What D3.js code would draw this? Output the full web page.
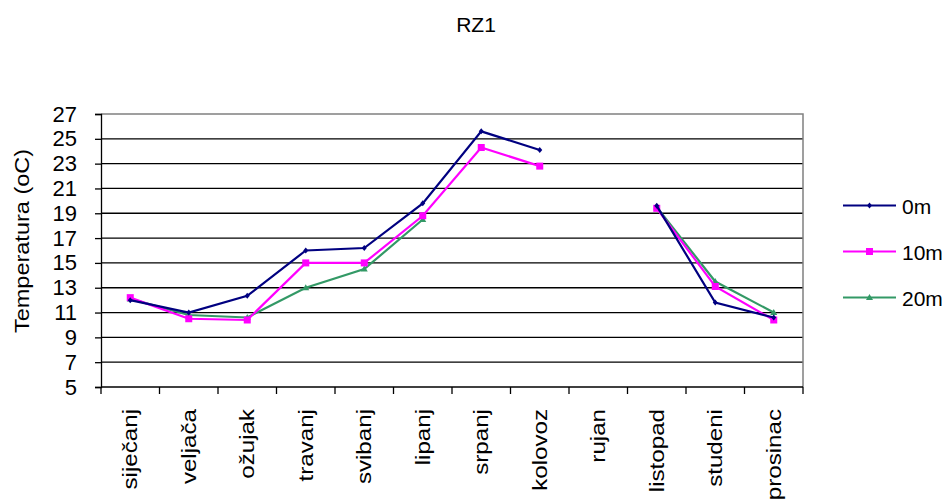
<!DOCTYPE html>
<html>
<head>
<meta charset="utf-8">
<script src="https://cdn.jsdelivr.net/npm/d3@7"></script>
<style>
  body { margin: 0; background: #fff; }
  text { font-family: "Liberation Sans", Arial, sans-serif; fill: #000; }
</style>
</head>
<body>
<script>
const months = ["siječanj", "veljača", "ožujak", "travanj", "svibanj", "lipanj",
  "srpanj", "kolovoz", "rujan", "listopad", "studeni", "prosinac"];

const temp0m  = [12.0, 11.0, 12.35, 16.0, 16.2, 19.8, 25.6, 24.1, null, 19.6, 11.8, 10.6];
const temp10m = [12.2, 10.5, 10.4, 15.0, 15.0, 18.8, 24.3, 22.8, null, 19.4, 13.1, 10.4];
const temp20m = [12.1, 10.8, 10.6, 13.0, 14.5, 18.5, null, null, null, 19.5, 13.5, 11.0];

const yTicks = [5, 7, 9, 11, 13, 15, 17, 19, 21, 23, 25, 27];

const series = [
  {name: "0m", values: temp0m, color: "#000080", marker: "diamond"},
  {name: "10m", values: temp10m, color: "#ff00ff", marker: "square"},
  {name: "20m", values: temp20m, color: "#339966", marker: "triangle"}
];

const width = 947, height = 500;
const plot = {left: 101, right: 803, top: 114, bottom: 387};

const svg = d3.select("body").append("svg")
  .attr("width", width)
  .attr("height", height);

const x = d3.scaleBand()
  .domain(months)
  .range([plot.left, plot.right]);

const y = d3.scaleLinear()
  .domain([5, 27])
  .range([plot.bottom, plot.top]);

// title
svg.append("text")
  .attr("x", 476)
  .attr("y", 32)
  .style("text-anchor", "middle")
  .style("font-size", "21px")
  .text("RZ1");

// gridlines
svg.append("g")
  .selectAll("line")
  .data(yTicks.slice(1, -1))
  .enter()
  .append("line")
  .attr("x1", plot.left)
  .attr("x2", plot.right)
  .attr("y1", d => y(d))
  .attr("y2", d => y(d))
  .attr("stroke", "#000")
  .attr("stroke-width", 1.3);

// plot border top/right
svg.append("path")
  .attr("d", `M${plot.left},${y(27)}H${plot.right}V${plot.bottom}`)
  .attr("fill", "none")
  .attr("stroke", "#808080")
  .attr("stroke-width", 1.5);

// y axis
const yAxis = d3.axisLeft(y)
  .tickValues(yTicks)
  .tickSize(6)
  .tickPadding(18);

const gy = svg.append("g")
  .attr("transform", `translate(${plot.left},0)`)
  .call(yAxis);
gy.select(".domain").attr("stroke", "#000").attr("stroke-width", 1.3);
gy.selectAll(".tick line").attr("stroke", "#000").attr("stroke-width", 1.3);
gy.selectAll(".tick text")
  .style("font-size", "22px")
  .style("font-family", "Liberation Sans, Arial, sans-serif")
  .attr("fill", "#000");

// x axis
const gx = svg.append("g")
  .attr("transform", `translate(0,${plot.bottom})`);
gx.append("line")
  .attr("x1", plot.left)
  .attr("x2", plot.right)
  .attr("stroke", "#000")
  .attr("stroke-width", 1.3);
gx.selectAll(".xtick")
  .data(months.concat([null]))
  .enter()
  .append("line")
  .attr("x1", (d, i) => i < months.length ? x(d) : plot.right)
  .attr("x2", (d, i) => i < months.length ? x(d) : plot.right)
  .attr("y1", 0)
  .attr("y2", 7)
  .attr("stroke", "#000")
  .attr("stroke-width", 1.3);
gx.selectAll(".xlabel")
  .data(months)
  .enter()
  .append("text")
  .attr("transform", d => `translate(${x(d) + x.bandwidth() / 2 + 7},22) rotate(-90) scale(1.15,1)`)
  .style("text-anchor", "end")
  .style("font-size", "21px")
  .text(d => d);

// y axis label
svg.append("text")
  .attr("transform", "translate(29,241) rotate(-90) scale(1.12,1)")
  .style("text-anchor", "middle")
  .style("font-size", "21px")
  .text("Temperatura (oC)");

const cx = i => x(months[i]) + x.bandwidth() / 2;

function drawMarker(g, type, color, px, py) {
  if (type === "square") {
    g.append("rect")
      .attr("x", px - 3.5).attr("y", py - 3.5)
      .attr("width", 7).attr("height", 7)
      .attr("fill", color);
  } else if (type === "triangle") {
    g.append("path")
      .attr("d", `M${px},${py - 3.5}L${px + 3.5},${py + 2.5}L${px - 3.5},${py + 2.5}Z`)
      .attr("fill", color);
  } else {
    g.append("path")
      .attr("d", `M${px},${py - 3}L${px + 2.5},${py}L${px},${py + 3}L${px - 2.5},${py}Z`)
      .attr("fill", color);
  }
}

const line = d3.line()
  .defined(d => d.v !== null)
  .x(d => cx(d.i))
  .y(d => y(d.v));

series.slice().reverse().forEach(s => {
  const pts = s.values.map((v, i) => ({v: v, i: i}));
  const g = svg.append("g");
  g.append("path")
    .datum(pts)
    .attr("d", line)
    .attr("fill", "none")
    .attr("stroke", s.color)
    .attr("stroke-width", 2.2);
  pts.filter(d => d.v !== null).forEach(d => drawMarker(g, s.marker, s.color, cx(d.i), y(d.v)));
});

// legend
const legendY = [205.5, 251.5, 297.5];
series.forEach((s, k) => {
  const g = svg.append("g");
  g.append("line")
    .attr("x1", 843).attr("x2", 896)
    .attr("y1", legendY[k]).attr("y2", legendY[k])
    .attr("stroke", s.color)
    .attr("stroke-width", 2.2);
  drawMarker(g, s.marker, s.color, 869.5, legendY[k]);
  g.append("text")
    .attr("x", 902)
    .attr("y", legendY[k] + 8)
    .style("font-size", "21px")
    .text(s.name);
});
</script>
</body>
</html>
